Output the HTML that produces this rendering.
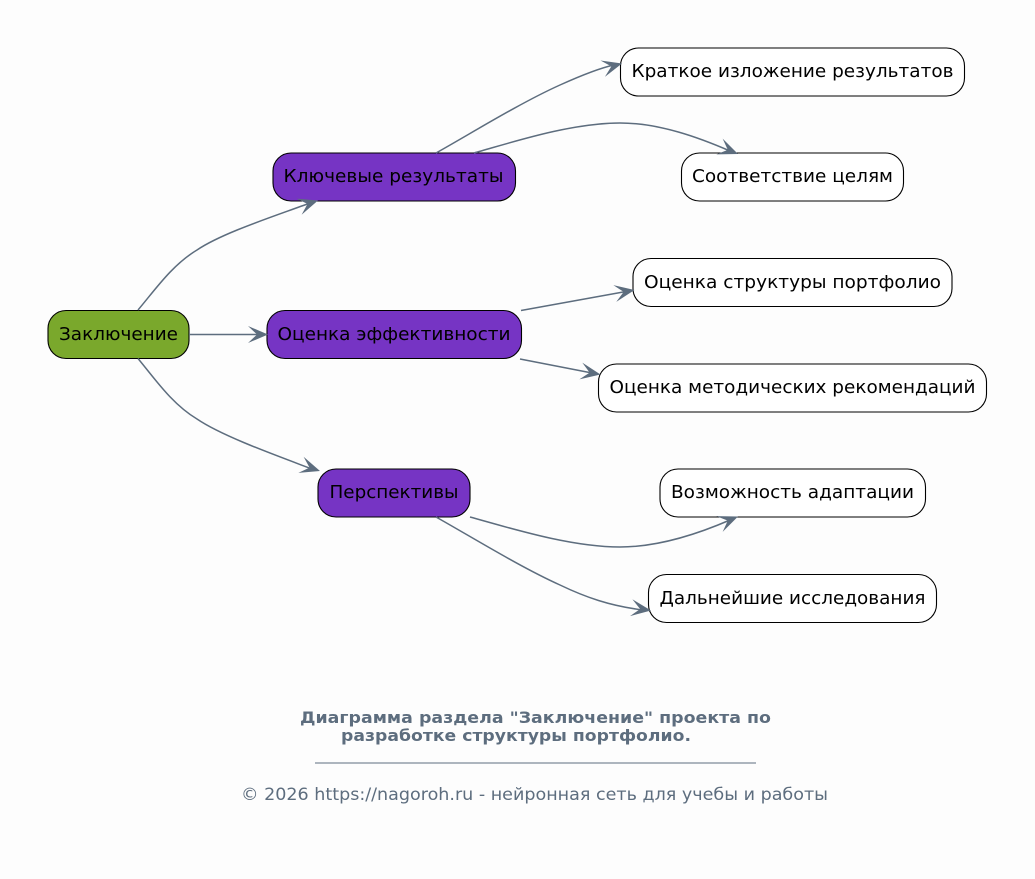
<!DOCTYPE html>
<html lang="ru">
<head>
<meta charset="utf-8">
<style>
html,body{margin:0;padding:0;background:#fdfdfd;}
svg{display:block;}
text{font-family:"DejaVu Sans","Liberation Sans",sans-serif;}
.n{font-size:18px;fill:#000;text-anchor:middle;}
.b{stroke:#000;stroke-width:1.1;}
.e{fill:none;stroke:#5d6d7e;stroke-width:1.5;}
.a{fill:#5d6d7e;}
.t{font-size:16px;font-weight:bold;fill:#5d6d7e;}
.c{font-size:16.5px;fill:#5d6d7e;}
</style>
</head>
<body>
<svg width="1035" height="879" viewBox="0 0 1035 879" xmlns="http://www.w3.org/2000/svg">
<rect width="1035" height="879" fill="#fdfdfd"/>

<rect class="b" x="48" y="310.500" width="141" height="48" rx="18" fill="#7aa82c"/>
<rect class="b" x="273" y="153" width="242.500" height="48" rx="18" fill="#7634c4"/>
<rect class="b" x="267" y="310.500" width="254.500" height="48" rx="18" fill="#7634c4"/>
<rect class="b" x="318" y="469" width="152" height="48" rx="18" fill="#7634c4"/>
<rect class="b" x="620.500" y="48" width="344" height="48" rx="18" fill="#fff"/>
<rect class="b" x="681.500" y="153" width="222" height="48" rx="18" fill="#fff"/>
<rect class="b" x="633" y="258.500" width="319" height="48" rx="18" fill="#fff"/>
<rect class="b" x="598.500" y="364" width="388" height="48" rx="18" fill="#fff"/>
<rect class="b" x="660" y="469" width="265.500" height="48" rx="18" fill="#fff"/>
<rect class="b" x="648.500" y="574.500" width="288" height="48" rx="18" fill="#fff"/>

<path class="e" d="M138,310 C155,290 172,265 197,250 C222,233 275,216 310,203"/>
<path class="e" d="M189,334.500 L260,334.500"/>
<path class="e" d="M138,358.500 C155,379 172,404 197,419 C222,436 275,455 312,469"/>
<path class="e" d="M436,153 C470,134 520,103 560,85 C580,76 600,68 614,65"/>
<path class="e" d="M474,153 C510,143 570,123 620,123 C660,123 700,138 730,151"/>
<path class="e" d="M521,310.500 L626,291.500"/>
<path class="e" d="M520,359 L592,373"/>
<path class="e" d="M470,517 C510,528 570,547 620,547 C660,547 700,533 730,520"/>
<path class="e" d="M436,517 C470,536 520,567 560,585 C585,597 610,606 643,610"/>

<g class="a">
<polygon points="0,0 -20,-8.500 -11,0 -20,8.500" transform="translate(318,200.500) rotate(-18)"/>
<polygon points="0,0 -20,-8.500 -11,0 -20,8.500" transform="translate(268,334.500)"/>
<polygon points="0,0 -20,-8.500 -11,0 -20,8.500" transform="translate(320,471) rotate(18)"/>
<polygon points="0,0 -20,-8.500 -11,0 -20,8.500" transform="translate(622,63.500) rotate(-15)"/>
<polygon points="0,0 -20,-8.500 -11,0 -20,8.500" transform="translate(738,154) rotate(22)"/>
<polygon points="0,0 -20,-8.500 -11,0 -20,8.500" transform="translate(634.500,290) rotate(-10)"/>
<polygon points="0,0 -20,-8.500 -11,0 -20,8.500" transform="translate(600.500,374.500) rotate(10)"/>
<polygon points="0,0 -20,-8.500 -11,0 -20,8.500" transform="translate(738,516.500) rotate(-22)"/>
<polygon points="0,0 -20,-8.500 -11,0 -20,8.500" transform="translate(651,610.500) rotate(8)"/>
</g>

<text class="n" x="118.500" y="340" textLength="119" lengthAdjust="spacingAndGlyphs">Заключение</text>
<text class="n" x="393.500" y="182" textLength="220" lengthAdjust="spacingAndGlyphs">Ключевые результаты</text>
<text class="n" x="394" y="340" textLength="233" lengthAdjust="spacingAndGlyphs">Оценка эффективности</text>
<text class="n" x="394" y="498" textLength="129" lengthAdjust="spacingAndGlyphs">Перспективы</text>
<text class="n" x="792.500" y="77" textLength="322" lengthAdjust="spacingAndGlyphs">Краткое изложение результатов</text>
<text class="n" x="792.500" y="182" textLength="201" lengthAdjust="spacingAndGlyphs">Соответствие целям</text>
<text class="n" x="792.500" y="288" textLength="297" lengthAdjust="spacingAndGlyphs">Оценка структуры портфолио</text>
<text class="n" x="792.500" y="393" textLength="366" lengthAdjust="spacingAndGlyphs">Оценка методических рекомендаций</text>
<text class="n" x="792.500" y="498" textLength="243" lengthAdjust="spacingAndGlyphs">Возможность адаптации</text>
<text class="n" x="792.500" y="604" textLength="266" lengthAdjust="spacingAndGlyphs">Дальнейшие исследования</text>

<text class="t" x="535.500" y="723" text-anchor="middle" textLength="471" lengthAdjust="spacingAndGlyphs">Диаграмма раздела "Заключение" проекта по</text>
<text class="t" x="516" y="741" text-anchor="middle" textLength="350" lengthAdjust="spacingAndGlyphs">разработке структуры портфолио.</text>
<line x1="315" y1="763" x2="756" y2="763" stroke="#5d6d7e" stroke-width="1"/>
<text class="c" x="534.500" y="800" text-anchor="middle" textLength="587" lengthAdjust="spacingAndGlyphs">© 2026 https://nagoroh.ru - нейронная сеть для учебы и работы</text>
</svg>
</body>
</html>
